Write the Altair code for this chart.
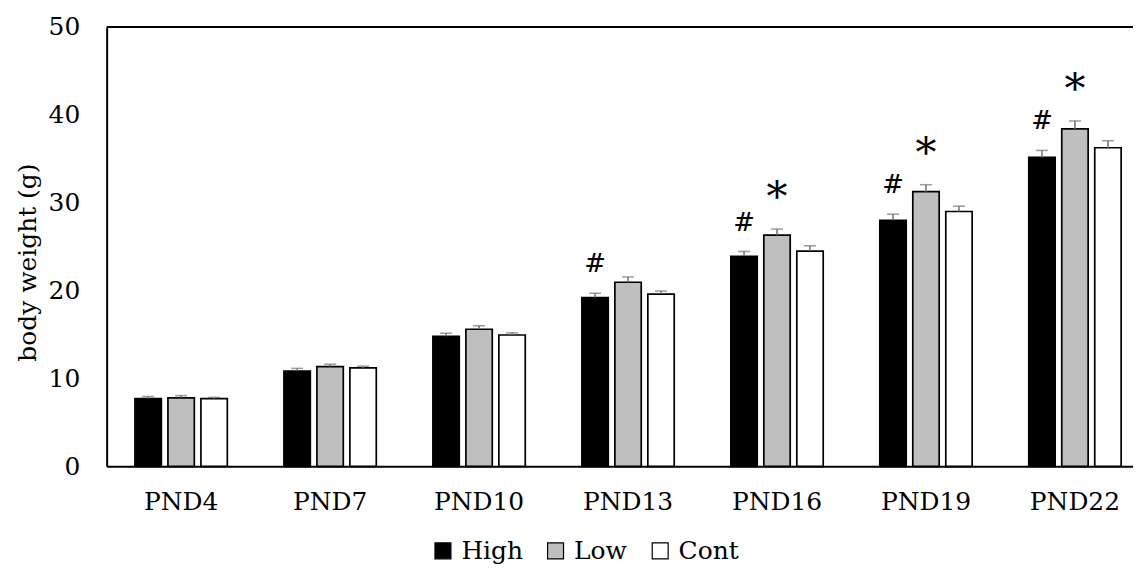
import altair as alt
import pandas as pd

days = ["PND4", "PND7", "PND10", "PND13", "PND16", "PND19", "PND22"]
groups = ["High", "Low", "Cont"]
high = [7.7, 10.85, 14.8, 19.2, 23.9, 28.0, 35.15]
low = [7.8, 11.35, 15.6, 20.95, 26.3, 31.25, 38.4]
cont = [7.7, 11.2, 14.95, 19.6, 24.5, 29.0, 36.25]
high_err = [0.25, 0.3, 0.35, 0.5, 0.55, 0.7, 0.8]
low_err = [0.25, 0.27, 0.4, 0.6, 0.7, 0.8, 0.9]
cont_err = [0.15, 0.2, 0.25, 0.35, 0.6, 0.6, 0.8]
high_mark = ["", "", "", "#", "#", "#", "#"]
low_mark = ["", "", "", "", "*", "*", "*"]
cont_mark = ["", "", "", "", "", "", ""]

rows = []
for g, vals, errs, marks in [("High", high, high_err, high_mark),
                             ("Low", low, low_err, low_mark),
                             ("Cont", cont, cont_err, cont_mark)]:
    for d, v, e, m in zip(days, vals, errs, marks):
        rows.append({"day": d, "group": g, "value": v, "top": v + e, "mark": m})
df = pd.DataFrame(rows)

FONT = "DejaVu Serif"
PLOT_W = 1030
PLOT_H = 441

xs = alt.X("day:N", sort=days, title=None,
           scale=alt.Scale(range=[0, 1046.5], paddingInner=0.38, paddingOuter=0.19),
           axis=alt.Axis(labelAngle=0, ticks=False, domainColor="black", domainWidth=2,
                         labelFontSize=25, labelPadding=23, labelColor="black", labelFont=FONT))
xo = alt.XOffset("group:N", sort=groups, scale=alt.Scale(paddingInner=0.2, paddingOuter=0))
ys = alt.Y("value:Q", scale=alt.Scale(domain=[0, 50], nice=False),
           axis=alt.Axis(values=[0, 10, 20, 30, 40, 50], grid=False, ticks=False,
                         domainColor="black", domainWidth=2, labelFontSize=25,
                         labelPadding=27, labelColor="black", labelFont=FONT,
                         title="body weight (g)", titleFontSize=25, titleFontWeight="normal",
                         titleFont=FONT, titleColor="black", titleX=-66, titleY=236))

base = alt.Chart(df)

bars = base.mark_bar(stroke="black", strokeWidth=1.7).encode(
    x=xs, xOffset=xo, y=ys,
    fill=alt.Fill("group:N", sort=groups,
                  scale=alt.Scale(domain=groups, range=["black", "#bfbfbf", "white"]),
                  legend=alt.Legend(title=None, orient="none", direction="horizontal",
                                    legendX=325, legendY=513, symbolType="square",
                                    symbolSize=256, symbolStrokeColor="black",
                                    symbolStrokeWidth=1.2, labelFontSize=25,
                                    labelFont=FONT, labelColor="black", labelOffset=6,
                                    columnPadding=20)),
)

err = base.mark_rule(color="#707070", strokeWidth=1.5).encode(
    x=alt.X("day:N", sort=days), xOffset=xo, y="value:Q", y2="top:Q")
caps = base.mark_tick(color="#707070", thickness=1.5, size=12).encode(
    x=alt.X("day:N", sort=days), xOffset=xo, y="top:Q")

hash_txt = base.transform_filter(alt.datum.mark == "#").mark_text(
    font=FONT, fontSize=26, dy=-29, baseline="middle", color="black").encode(
    x=alt.X("day:N", sort=days), xOffset=xo, y="top:Q", text="mark:N")
star_txt = base.transform_filter(alt.datum.mark == "*").mark_text(
    font=FONT, fontSize=42, dy=-31, baseline="middle", color="black").encode(
    x=alt.X("day:N", sort=days), xOffset=xo, y="top:Q", text="mark:N")

top_line = alt.Chart(pd.DataFrame({"k": [0]})).mark_rule(color="black", strokeWidth=2).encode(
    x=alt.value(0), x2=alt.value(1100), y=alt.value(0))

chart = alt.layer(bars, err, caps, hash_txt, star_txt, top_line).properties(
    width=PLOT_W, height=PLOT_H,
    autosize=alt.AutoSizeParams(type="none"),
    padding={"left": 99, "top": 18, "right": 0, "bottom": 100},
).configure_view(stroke=None).configure(font=FONT)

chart.save("out.html", embed_options={"renderer": "svg", "actions": False})
